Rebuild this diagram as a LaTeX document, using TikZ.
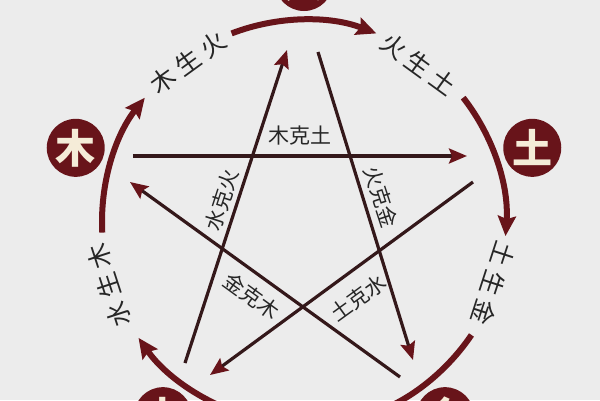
\documentclass[tikz,border=0pt]{standalone}
\usepackage{fontspec}
\newfontfamily\cjk{Noto Sans CJK SC}
\newfontfamily\cjkwide{Noto Sans CJK SC}[LetterSpace=22]
\usetikzlibrary{arrows.meta}
\definecolor{wxred}{RGB}{104,20,26}
\definecolor{wxline}{RGB}{52,24,26}
\definecolor{wxbg}{RGB}{236,236,236}
\definecolor{wxcream}{RGB}{245,236,216}
\tikzset{sheng/.style = {line width=6pt, draw=wxred, -{Stealth[length=20pt,width=18pt,inset=3pt]}}}
\tikzset{ke/.style = {line width=3.2pt, draw=wxline, -{Stealth[length=18pt,width=15pt,inset=3pt,color=wxred]}}}

\begin{document}
\begin{tikzpicture}[x=1pt, y=1pt,
    element/.style={circle, fill=wxred, text=wxcream, minimum size=58pt, inner sep=0pt, font=\cjk\bfseries\fontsize{40}{40}\selectfont},
    ring label/.style={font=\cjkwide\fontsize{25}{25}\selectfont, text=black!85},
    ke label/.style={font=\cjk\fontsize{21}{21}\selectfont, text=black!85}]
    \fill[wxbg] (-304,-178) rectangle (296,222);
    \useasboundingbox (-304,-178) rectangle (296,222);
    % elements
    \node[element] (huo) at (90:240) {火};
    \node[element] (tu) at (18:240) {土};
    \node[element] (jin) at (-54:240) {金};
    \node[element] (shui) at (-126:240) {水};
    \node[element] (mu) at (162:240) {木};
    % sheng cycle
    \coordinate (mu s) at (183:202);
    \coordinate (huo s) at (111:202);
    \coordinate (tu s) at (38:202);
    \coordinate (jin s) at (-34:202);
    \coordinate (shui s) at (-106:202);
    \draw[sheng] (mu s) arc[start angle=183, end angle=142, radius=202];
    \draw[sheng] (huo s) arc[start angle=111, end angle=69, radius=202];
    \draw[sheng] (tu s) arc[start angle=38, end angle=-4, radius=202];
    \draw[sheng] (jin s) arc[start angle=-34, end angle=-75, radius=202];
    \draw[sheng] (shui s) arc[start angle=-106, end angle=-145, radius=202];
    \node[ring label, rotate=36] (mu huo) at (126:197) {木生火};
    \node[ring label, rotate=-36] (huo tu) at (54:195) {火生土};
    \node[ring label, rotate=-108] (tu jin) at (-18:199) {土生金};
    \node[ring label, rotate=108] (shui mu) at (198:205) {水生木};
    % ke cycle
    \coordinate (mu out) at (-171,66);
    \coordinate (tu in) at (163,66);
    \coordinate (shui out) at (-119,-141);
    \coordinate (huo in) at (-17,172);
    \coordinate (huo out) at (14,170);
    \coordinate (jin in) at (109,-138);
    \coordinate (tu out) at (169,40);
    \coordinate (shui in) at (-94,-153);
    \coordinate (jin out) at (96,-155);
    \coordinate (mu in) at (-174,40);
    \draw[ke] (mu out) -- (tu in);
    \draw[ke] (shui out) -- (huo in);
    \draw[ke] (huo out) -- (jin in);
    \draw[ke] (tu out) -- (shui in);
    \draw[ke] (jin out) -- (mu in);
    \node[ke label] (mu tu) at (-4,86) {木克土};
    \node[ke label, rotate=72] (shui huo) at (-82,22) {水克火};
    \node[ke label, rotate=-72] (huo jin) at (77,25) {火克金};
    \node[ke label, rotate=-36] (jin mu) at (-52,-74) {金克木};
    \node[ke label, rotate=36] (tu shui) at (54,-76) {土克水};
\end{tikzpicture}
\end{document}
